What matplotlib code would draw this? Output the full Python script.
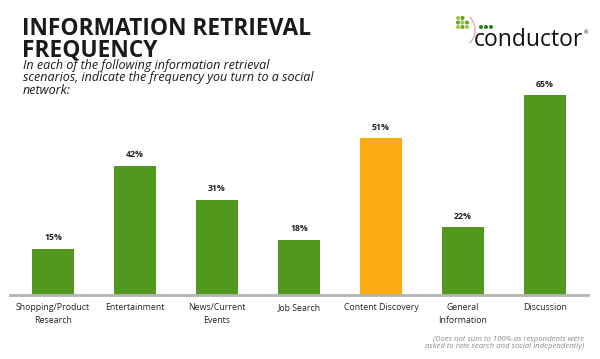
import matplotlib.pyplot as plt
from matplotlib.patches import Circle, Arc

# data
categories = ["Shopping/Product\nResearch", "Entertainment", "News/Current\nEvents",
              "Job Search", "Content Discovery", "General\nInformation", "Discussion"]
values = [15, 42, 31, 18, 51, 22, 65]
highlight = "Content Discovery"

green = "#52981f"
orange = "#fdab13"
colors = [orange if c == highlight else green for c in categories]

plt.rcParams['font.family'] = ['Open Sans', 'DejaVu Sans']

fig = plt.figure(figsize=(6, 3.59), dpi=100)
W, H = 600, 359

# axes: baseline at y=295px, 3.07 px per percent
ax = fig.add_axes([10 / W, 1 - 295 / H, 578 / W, 70 * 3.07 / H])
x = list(range(len(categories)))
bars = ax.bar(x, values, width=0.51, color=colors, zorder=2)
ax.set_xlim(-0.525, 6.525)
ax.set_ylim(0, 70)

for b, v in zip(bars, values):
    ax.text(b.get_x() + b.get_width() / 2, v + 2.2, f"{v}%", ha="center", va="bottom",
            fontsize=6.3, fontweight="bold", color="#222222")

for s in ["top", "right", "left"]:
    ax.spines[s].set_visible(False)
ax.spines["bottom"].set_color("#b3b3b3")
ax.spines["bottom"].set_linewidth(2)
ax.set_yticks([])
ax.set_xticks(x)
ax.set_xticklabels(categories, fontsize=6.3, color="#222222", linespacing=1.55)
ax.tick_params(axis="x", length=0, pad=6)

# title and subtitle
fig.text(22 / W, 1 - 17 / H, "INFORMATION RETRIEVAL\nFREQUENCY", fontsize=16.4,
         fontweight="bold", color="#1a1a1a", ha="left", va="top", linespacing=0.85)
fig.text(23 / W, 1 - 59 / H,
         "In each of the following information retrieval\nscenarios, indicate the frequency you turn to a social\nnetwork:",
         fontsize=9, style="italic", color="#1a1a1a", ha="left", va="top", linespacing=0.95)

# footnote
fig.text(584 / W, 1 - 350 / H,
         "(Does not sum to 100% as respondents were\nasked to rate search and social independently)",
         fontsize=5.6, style="italic", color="#8a8a8a", ha="right", va="bottom", linespacing=1.0)

# logo
lax = fig.add_axes([0, 0, 1, 1], facecolor="none")
lax.set_xlim(0, W)
lax.set_ylim(H, 0)
lax.axis("off")
grid_pts = [(0, 0), (1, 0), (0, 1), (1, 1), (2, 1), (1, 2), (2, 2), (0, 2)]
for gx, gy in grid_pts:
    shade = "#9acd32" if (gx + gy) % 2 == 0 else "#6aa121"
    lax.add_patch(Circle((458 + gx * 4.5, 18 + gy * 4.5), 2.0, color=shade, lw=0))
lax.add_patch(Arc((462, 30), 26, 32, theta1=-60, theta2=60, color="#d8b0b0", lw=1))
for i in range(3):
    lax.add_patch(Circle((481 + i * 5, 27), 2.0, color="#2f7d1e", lw=0))
lax.text(474, 46, "conductor", fontsize=16.5, color="#111111", ha="left", va="baseline")
lax.text(584, 34, "®", fontsize=4, color="#111111", ha="left", va="baseline")

fig.savefig("out.png", dpi=100, facecolor="white")
